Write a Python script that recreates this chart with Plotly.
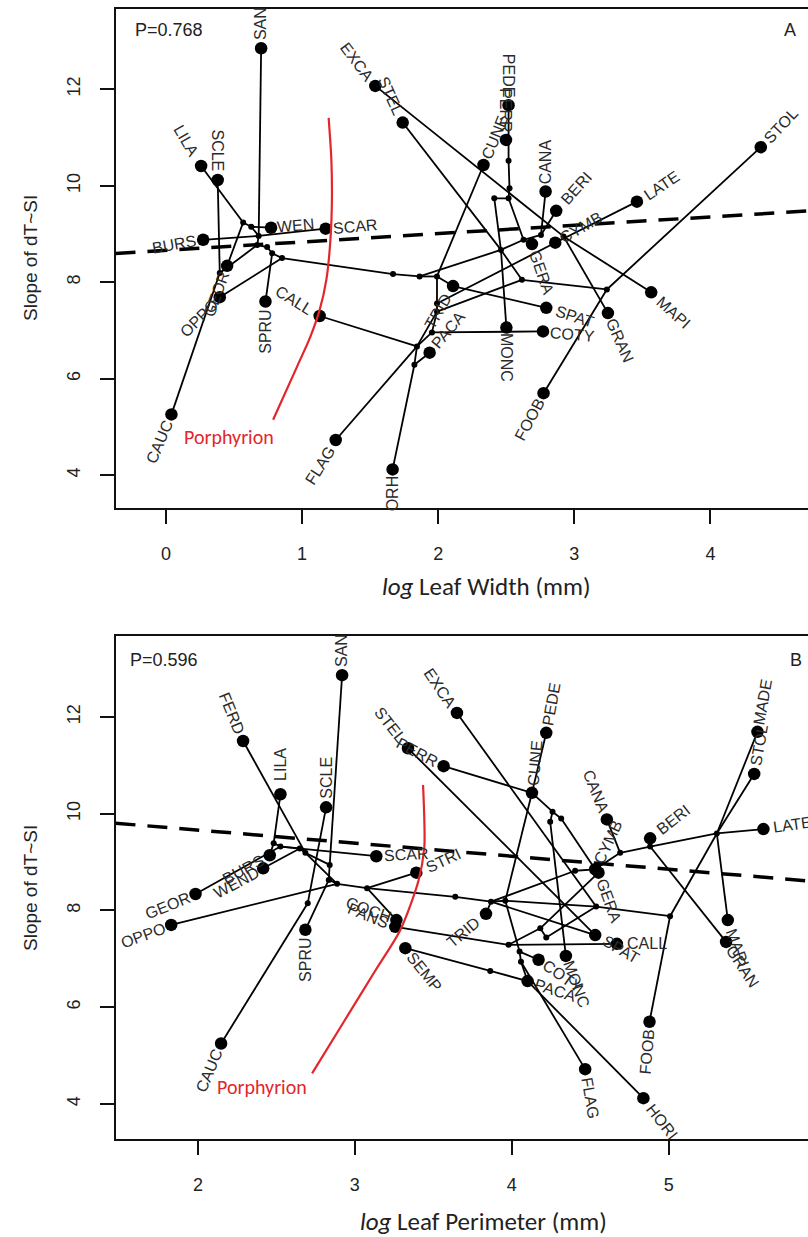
import math
import plotly.graph_objects as go

# ---------------- Panel A: log Leaf Width ----------------
A_tips = ["SAN", "LILA", "SCLE", "BURS", "WEN", "SCAR", "EXCA", "STEL", "CUNE", "PEDE", "PERR",
          "CANA", "BERI", "LATE", "STOL", "GERA", "CYMB", "MAPI", "GRAN", "SPAT", "COTY", "MONC",
          "FOOB", "GEOR", "OPPO", "SPRU", "CALL", "CAUC", "FLAG", "ORH", "TRID", "PACA"]
A_tip_x = [0.699, 0.258, 0.380, 0.273, 0.772, 1.173, 1.538, 1.739, 2.333, 2.517, 2.498,
           2.789, 2.867, 3.460, 4.370, 2.689, 2.860, 3.565, 3.247, 2.794, 2.770, 2.501,
           2.774, 0.449, 0.395, 0.731, 1.129, 0.040, 1.247, 1.665, 2.109, 1.937]
A_tip_y = [12.85, 10.41, 10.12, 8.88, 9.13, 9.11, 12.07, 11.31, 10.43, 11.67, 10.95,
           9.88, 9.48, 9.67, 10.80, 8.79, 8.82, 7.79, 7.36, 7.47, 6.98, 7.06,
           5.70, 8.34, 7.69, 7.60, 7.30, 5.26, 4.73, 4.12, 7.92, 6.54]
A_nodes = ["a1", "a2", "a3", "a4", "a5", "a6", "a7", "a8", "a9", "a10", "a11", "a12", "a13",
           "a14", "a15", "a16", "a17", "a18", "a19", "a20", "a21", "a22", "a23", "a24", "a25", "a26"]
A_node_x = [0.567, 0.626, 0.681, 0.670, 0.743, 0.780, 0.853, 0.395, 1.668, 1.863, 1.991, 1.991, 1.991,
            1.954, 1.844, 1.825, 2.412, 2.517, 2.524, 2.517, 2.461, 2.615, 2.627, 2.755, 2.921, 3.239]
A_node_y = [9.24, 9.15, 8.96, 8.77, 8.73, 8.60, 8.50, 8.19, 8.17, 8.12, 8.12, 7.56, 7.39,
            6.96, 6.67, 6.29, 9.74, 9.74, 9.95, 10.52, 8.67, 8.05, 8.88, 8.98, 8.95, 7.85]
A_edges = [("SAN", "a3"), ("LILA", "a1"), ("a1", "a2"), ("a2", "a3"), ("WEN", "a2"), ("GEOR", "a1"),
           ("SCLE", "a8"), ("a8", "CAUC"), ("a8", "a4"), ("BURS", "a3"), ("a3", "SCAR"),
           ("a3", "a4"), ("a4", "a5"), ("a5", "a6"), ("a6", "a7"), ("SPRU", "a6"), ("OPPO", "a7"),
           ("a7", "a9"), ("a9", "a10"), ("a10", "a11"), ("a10", "a21"),
           ("CUNE", "a11"), ("a11", "a12"), ("a12", "a13"), ("a13", "a15"), ("a15", "FLAG"),
           ("CALL", "a15"), ("a15", "a16"), ("a16", "ORH"), ("a16", "PACA"), ("a15", "a14"),
           ("a14", "a13"), ("a14", "COTY"), ("a17", "a21"), ("a21", "MONC"),
           ("TRID", "a11"), ("TRID", "SPAT"), ("a12", "CYMB"), ("CYMB", "LATE"),
           ("a13", "a22"), ("a21", "a22"), ("STEL", "a21"), ("a22", "a26"),
           ("STOL", "a26"), ("a26", "FOOB"), ("EXCA", "a25"), ("a25", "MAPI"), ("a25", "GRAN"),
           ("CANA", "a24"), ("BERI", "a24"), ("a24", "a23"), ("a23", "GERA"), ("a23", "a21"),
           ("PEDE", "a20"), ("a20", "a19"), ("a19", "a18"), ("a18", "a17"), ("a18", "a23")]
A_curve_x = [1.195, 1.215, 1.219, 1.208, 1.178, 1.129, 1.061, 0.963, 0.787]
A_curve_y = [11.406, 10.535, 9.706, 8.877, 8.048, 7.427, 6.873, 6.251, 5.149]
A_fit = (8.662, 0.173)          # intercept, slope
A_p = "P=0.768"

# ---------------- Panel B: log Leaf Perimeter ----------------
B_tips = ["SAN", "FERD", "LILA", "SCLE", "STEL", "PERR", "EXCA", "SCAR", "STRI", "BURS", "WEND",
          "GEOR", "OPPO", "SPRU", "CAUC", "COCH", "PANS", "SEMP", "TRID", "CUNE", "PEDE", "CANA",
          "BERI", "LATE", "MADE", "STOL", "CYMB", "GERA", "SPAT", "CALL", "COTY", "MONC", "PACA",
          "FLAG", "HORI", "FOOB", "MAPI", "GRAN"]
B_tip_x = [2.919, 2.288, 2.526, 2.817, 3.339, 3.566, 3.651, 3.137, 3.392, 2.458, 2.416,
           1.985, 1.830, 2.685, 2.148, 3.265, 3.258, 3.322, 3.836, 4.129, 4.220, 4.606,
           4.882, 5.604, 5.566, 5.545, 4.532, 4.553, 4.532, 4.670, 4.171, 4.345, 4.101,
           4.468, 4.839, 4.878, 5.377, 5.366]
B_tip_y = [12.86, 11.50, 10.40, 10.13, 11.35, 10.98, 12.08, 9.12, 8.78, 9.14, 8.87,
           8.34, 7.70, 7.60, 5.25, 7.80, 7.66, 7.22, 7.93, 10.43, 11.67, 9.88,
           9.49, 9.68, 11.69, 10.82, 8.85, 8.78, 7.49, 7.31, 6.98, 7.06, 6.54,
           4.72, 4.12, 5.70, 7.80, 7.35]
B_nodes = ["b1", "b2", "b3", "b4", "b5", "b6", "b7", "b8", "b9", "b11", "b13", "b14", "b16", "b17",
           "b18", "b19", "b20", "b21", "b22", "b23", "b24", "b25", "b26", "b27", "b28", "b29", "b30"]
B_node_x = [2.483, 2.526, 2.649, 2.685, 2.840, 2.834, 2.887, 3.078, 2.700, 3.640, 3.868, 3.959, 4.260,
            4.245, 4.315, 4.404, 4.538, 5.009, 4.182, 4.220, 3.980, 4.050, 4.059, 3.863, 4.691, 4.882, 5.307]
B_node_y = [9.39, 9.32, 9.28, 9.19, 8.94, 8.63, 8.55, 8.46, 8.15, 8.28, 8.18, 8.20, 10.04,
            9.83, 9.90, 8.82, 8.08, 7.88, 7.63, 7.44, 7.29, 7.15, 6.94, 6.75, 9.19, 9.32, 9.59]
B_edges = [("SAN", "b5"), ("b5", "b6"), ("b6", "b7"), ("LILA", "b1"), ("BURS", "b1"), ("b1", "b2"),
           ("GEOR", "b2"), ("b2", "SCAR"), ("b2", "b3"), ("WEND", "b3"), ("FERD", "b4"), ("b3", "b4"),
           ("b4", "b7"), ("b4", "b5"), ("SCLE", "b9"), ("b9", "CAUC"), ("SPRU", "b6"),
           ("OPPO", "b7"), ("b7", "b8"), ("b8", "STRI"), ("b8", "b11"), ("b8", "COCH"),
           ("COCH", "PANS"), ("PANS", "b24"), ("b24", "CALL"), ("SEMP", "b27"), ("b27", "PACA"),
           ("PACA", "HORI"), ("b11", "b13"), ("b13", "b14"), ("b13", "SPAT"), ("TRID", "b13"),
           ("b14", "b20"), ("b20", "b21"), ("FOOB", "b21"), ("b21", "b30"), ("b30", "STOL"),
           ("b30", "MADE"), ("b30", "MAPI"), ("b30", "LATE"), ("b30", "b29"), ("BERI", "b29"),
           ("b29", "b28"), ("b28", "CYMB"), ("CANA", "b28"), ("b29", "GRAN"), ("PERR", "CUNE"),
           ("PEDE", "CUNE"), ("CUNE", "b16"), ("b16", "b18"), ("b18", "CYMB"), ("b16", "b17"),
           ("b17", "MONC"), ("CUNE", "b14"), ("b14", "b25"), ("b25", "b26"), ("b26", "FLAG"),
           ("b25", "COTY"), ("b26", "PACA"), ("EXCA", "b20"), ("STEL", "SPAT"), ("b13", "b19"),
           ("b19", "CYMB"), ("b22", "GERA"), ("b22", "b23"), ("b23", "b20"), ("b24", "b22")]
B_curve_x = [3.435, 3.443, 3.443, 3.407, 3.290, 3.133, 2.937, 2.728]
B_curve_y = [10.59, 9.868, 9.31, 8.628, 7.595, 6.769, 5.736, 4.634]
B_fit = (10.20, -0.270)
B_p = "P=0.596"

# ---------------- label styles (angle clockwise deg, side: +1 text starts at dot, -1 ends at dot) ----
A_lab = {"SAN": (-90, 1), "LILA": (60, -1), "SCLE": (90, -1), "BURS": (-10, -1), "WEN": (-5, 1),
         "SCAR": (-5, 1), "EXCA": (53, -1), "STEL": (66, -1), "CUNE": (-68, 1), "PEDE": (90, -1),
         "PERR": (90, -1), "CANA": (-90, 1), "BERI": (-48, 1), "LATE": (-34, 1), "STOL": (-47, 1),
         "GERA": (71, 1), "CYMB": (-30, 1), "MAPI": (42, 1), "GRAN": (66, 1), "SPAT": (18, 1),
         "COTY": (5, 1), "MONC": (90, 1), "FOOB": (-62, -1), "GEOR": (-70, -1), "OPPO": (-45, -1),
         "SPRU": (-90, -1), "CALL": (32, -1), "CAUC": (-67, -1), "FLAG": (-58, -1), "ORH": (-90, -1),
         "TRID": (-60, -1), "PACA": (-50, 1)}
B_lab = {"SAN": (-90, 1), "FERD": (68, -1), "LILA": (-90, 1), "SCLE": (-90, 1), "STEL": (52, -1),
         "PERR": (28, -1), "EXCA": (56, -1), "SCAR": (-3, 1), "STRI": (-25, 1), "BURS": (-28, -1),
         "WEND": (-28, -1), "GEOR": (-22, -1), "OPPO": (-20, -1), "SPRU": (-90, -1), "CAUC": (-67, -1),
         "COCH": (20, -1), "PANS": (22, -1), "SEMP": (51, 1), "TRID": (-40, -1), "CUNE": (-85, 1),
         "PEDE": (-80, 1), "CANA": (68, -1), "BERI": (-38, 1), "LATE": (-8, 1), "MADE": (-80, 1),
         "STOL": (-80, 1), "CYMB": (-65, 1), "GERA": (70, 1), "SPAT": (30, 1), "CALL": (0, 1),
         "COTY": (35, 1), "MONC": (70, 1), "PACA": (18, 1), "FLAG": (80, 1), "HORI": (52, 1),
         "FOOB": (-85, -1), "MAPI": (70, 1), "GRAN": (57, 1)}

W, H = 808, 1237
FS = 16
LABEL_FONT = dict(family="Liberation Sans, Arial, sans-serif", size=FS, color="#2a2a2a")

fig = go.Figure()


def add_panel(fig, k, tips, tx, ty, nodes, nx, ny, edges, cx, cy, fit, xr, labstyle):
    xa = "x" if k == 1 else "x2"
    ya = "y" if k == 1 else "y2"
    pos = {n: (x, y) for n, x, y in zip(tips, tx, ty)}
    pos.update({n: (x, y) for n, x, y in zip(nodes, nx, ny)})
    ex, ey = [], []
    for a, b in edges:
        ex += [pos[a][0], pos[b][0], None]
        ey += [pos[a][1], pos[b][1], None]
    fx = [xr[0], xr[1]]
    fy = [fit[0] + fit[1] * v for v in fx]
    fig.add_trace(go.Scatter(x=fx, y=fy, mode="lines", xaxis=xa, yaxis=ya,
                             line=dict(color="black", width=3.5, dash="20px,12px"),
                             showlegend=False, hoverinfo="skip"))
    fig.add_trace(go.Scatter(x=ex, y=ey, mode="lines", xaxis=xa, yaxis=ya,
                             line=dict(color="black", width=1.8), showlegend=False, hoverinfo="skip"))
    fig.add_trace(go.Scatter(x=nx, y=ny, mode="markers", xaxis=xa, yaxis=ya,
                             marker=dict(color="black", size=6), showlegend=False, hoverinfo="skip"))
    fig.add_trace(go.Scatter(x=tx, y=ty, mode="markers", xaxis=xa, yaxis=ya,
                             marker=dict(color="black", size=12.5), showlegend=False, hoverinfo="skip"))
    fig.add_trace(go.Scatter(x=cx, y=cy, mode="lines", xaxis=xa, yaxis=ya, line_shape="spline",
                             line=dict(color="#e3262b", width=2.2, smoothing=0.8),
                             showlegend=False, hoverinfo="skip"))
    for n, x, y in zip(tips, tx, ty):
        ang, side = labstyle[n]
        w = len(n) * 0.68 * FS
        r = 8 + w / 2
        dx = side * r * math.cos(math.radians(ang))
        dy = side * r * math.sin(math.radians(ang))
        fig.add_annotation(x=x, y=y, xref=xa, yref=ya, text=n, showarrow=False, textangle=ang,
                           xanchor="center", yanchor="middle", xshift=dx, yshift=-dy, font=LABEL_FONT)


A_xr = [-0.371, 4.717]
B_xr = [1.475, 5.888]
add_panel(fig, 1, A_tips, A_tip_x, A_tip_y, A_nodes, A_node_x, A_node_y, A_edges,
          A_curve_x, A_curve_y, A_fit, A_xr, A_lab)
add_panel(fig, 2, B_tips, B_tip_x, B_tip_y, B_nodes, B_node_x, B_node_y, B_edges,
          B_curve_x, B_curve_y, B_fit, B_xr, B_lab)

x0 = 115.5 / W
axis_common = dict(showgrid=False, zeroline=False, ticks="outside", ticklen=14, tickwidth=1.5,
                   tickcolor="#111", linecolor="#111", linewidth=2, showline=True,
                   tickfont=dict(family="Liberation Sans, Arial, sans-serif", size=18, color="#222"))

fig.update_layout(
    width=W, height=H, margin=dict(l=0, r=0, t=0, b=0),
    paper_bgcolor="white", plot_bgcolor="white",
    xaxis=dict(domain=[x0, 1], range=A_xr, tickvals=[0, 1, 2, 3, 4], mirror=True,
               anchor="y", ticklabelstandoff=14, **axis_common),
    yaxis=dict(domain=[1 - 508 / H, 1 - 9 / H], range=[3.32, 13.664], tickvals=[4, 6, 8, 10, 12],
               tickangle=-90, anchor="x", ticklabelstandoff=12, **axis_common),
    xaxis2=dict(domain=[x0, 1], range=B_xr, tickvals=[2, 3, 4, 5], mirror=True,
                anchor="y2", ticklabelstandoff=14, **axis_common),
    yaxis2=dict(domain=[1 - 1139 / H, 1 - 636 / H], range=[3.277, 13.67], tickvals=[4, 6, 8, 10, 12],
                tickangle=-90, anchor="x2", ticklabelstandoff=12, **axis_common),
)

title_font = dict(family="Carlito, Lato, sans-serif", size=25, color="#222")
ylab_font = dict(family="Liberation Sans, Arial, sans-serif", size=19, color="#222")
txt_font = dict(family="Liberation Sans, Arial, sans-serif", size=18, color="#222")
red_font = dict(family="Carlito, Lato, sans-serif", size=20, color="#e3262b")


def paper(px, py):
    return px / W, 1 - py / H


for (px, py), t, f, ang in [((486, 587), "<i>log</i> Leaf Width (mm)", title_font, 0),
                            ((483, 1221), "<i>log</i> Leaf Perimeter (mm)", title_font, 0),
                            ((30, 258), "Slope of dT~SI", ylab_font, -90),
                            ((30, 888), "Slope of dT~SI", ylab_font, -90),
                            ((790, 30), "A", txt_font, 0),
                            ((796, 660), "B", txt_font, 0)]:
    X, Y = paper(px, py)
    fig.add_annotation(x=X, y=Y, xref="paper", yref="paper", text=t, showarrow=False,
                       textangle=ang, font=f, xanchor="center", yanchor="middle")

for (px, py), t in [((133, 30), A_p), ((128, 660), B_p)]:
    X, Y = paper(px, py)
    fig.add_annotation(x=X, y=Y, xref="paper", yref="paper", text=t, showarrow=False,
                       font=txt_font, xanchor="left", yanchor="middle")

fig.add_annotation(x=0.46, y=4.80, xref="x", yref="y", text="Porphyrion", showarrow=False,
                   font=red_font)
fig.add_annotation(x=2.411, y=4.35, xref="x2", yref="y2", text="Porphyrion", showarrow=False,
                   font=red_font)

fig.write_html("out.html")
